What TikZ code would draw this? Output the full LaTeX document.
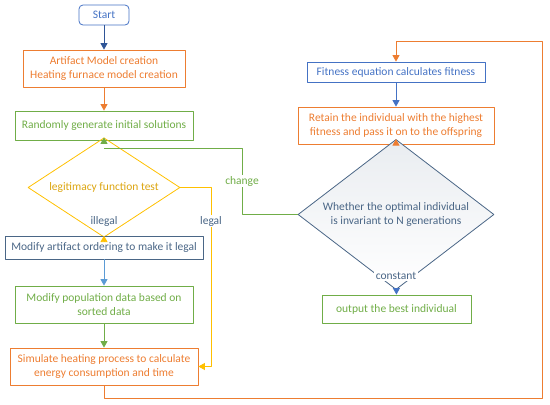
\documentclass[tikz,border=0pt]{standalone}
\usepackage{fontspec}
\setmainfont{Carlito}
\usetikzlibrary{shapes.geometric,arrows.meta}
\definecolor{cam}{HTML}{ED7D31}
\definecolor{xanhla}{HTML}{70AD47}
\definecolor{vang}{HTML}{FFC000}
\definecolor{vangdam}{HTML}{DCA510}
\definecolor{lam}{HTML}{4472C4}
\definecolor{lamdam}{HTML}{2F5597}
\definecolor{lamnhat}{HTML}{5B9BD5}
\definecolor{xam}{HTML}{4A6686}
\begin{document}
\begin{tikzpicture}[>={Triangle[length=6.5pt,width=7pt]},line join=round,x=1pt,y=-1pt,
	font=\fontsize{11.5}{14}\selectfont,line width=0.8pt,
	hop/.style={draw,rectangle,align=center,inner sep=1pt},
	thoi/.style={draw,diamond,align=center,inner sep=-5pt},
	nhan/.style={fill=white,inner sep=1.5pt}]
	\useasboundingbox (0,0) rectangle (550,405);
	% cot trai
	\node[hop,rounded corners=4pt,draw=lam,text=lam,minimum width=50pt,minimum height=20pt] (start) at (104,15) {Start};
	\node[hop,draw=cam,text=cam,minimum width=162pt,minimum height=37pt] (model) at (104,68.5) {Artifact Model creation\\Heating furnace model creation};
	\node[hop,draw=xanhla,text=xanhla,minimum width=178pt,minimum height=29pt] (randgen) at (104,125.5) {Randomly generate initial solutions};
	\node[thoi,draw=vang,text=vangdam,minimum width=152pt,minimum height=47pt] (legit) at (104,187.5) {legitimacy function test};
	\node[hop,draw=xam,text=xam,minimum width=198pt,minimum height=23pt] (modify) at (104,247.5) {Modify artifact ordering to make it legal};
	\node[hop,draw=xanhla,text=xanhla,minimum width=178pt,minimum height=37pt] (popdata) at (104,304.5) {Modify population data based on\\sorted data};
	\node[hop,draw=cam,text=cam,minimum width=188pt,minimum height=37pt] (simulate) at (104,366.5) {Simulate heating process to calculate\\energy consumption and time};
	% cot phai
	\node[hop,draw=lam,text=lam,minimum width=178pt,minimum height=20pt] (fitness) at (396,72) {Fitness equation calculates fitness};
	\node[hop,draw=cam,text=cam,minimum width=196pt,minimum height=37pt] (retain) at (396,125.5) {Retain the individual with the highest\\fitness and pass it on to the offspring};
	\node[thoi,draw=xam,text=xam,top color=xam!12,bottom color=white,minimum width=196pt,minimum height=93pt] (judge) at (396,214.5) {Whether the optimal individual\\is invariant to N generations};
	\node[hop,draw=xanhla,text=xanhla,minimum width=149pt,minimum height=28pt] (best) at (396.5,309) {output the best individual};
	% diem gap
	\coordinate (split) at (104,148);
	\coordinate (chgturn) at (242,148);
	\coordinate (legalx) at (211,366.5);
	\coordinate (loopa) at (542,398);
	\coordinate (loopb) at (542,41);
	% duong noi
	\draw[->,lamdam] (start)--(model);
	\draw[->,cam] (model)--(randgen);
	\draw[->,xanhla] (randgen)--(legit);
	\draw[xanhla] (split)--(chgturn)|-(judge.west);
	\draw[->,vang] (legit)--(modify);
	\draw[->,vang] (legit.east)-|(legalx)--(simulate.east);
	\draw[->,lamnhat] (modify)--(popdata);
	\draw[->,xanhla] (popdata)--(simulate);
	\draw[->,cam] (simulate.south)|-(loopa)--(loopb)-|(fitness.north);
	\draw[->,lam] (fitness)--(retain);
	\draw[->,cam] (retain)--(judge);
	\draw[->,lam] (judge)--(best);
	% nhan
	\node[nhan,text=xanhla] (lblchange) at (242,181) {change};
	\node[nhan,text=xam] (lblillegal) at (104,221) {illegal};
	\node[nhan,text=xam] (lbllegal) at (211,221) {legal};
	\node[nhan,text=xam] (lblconst) at (396,276) {constant};
\end{tikzpicture}
\end{document}
